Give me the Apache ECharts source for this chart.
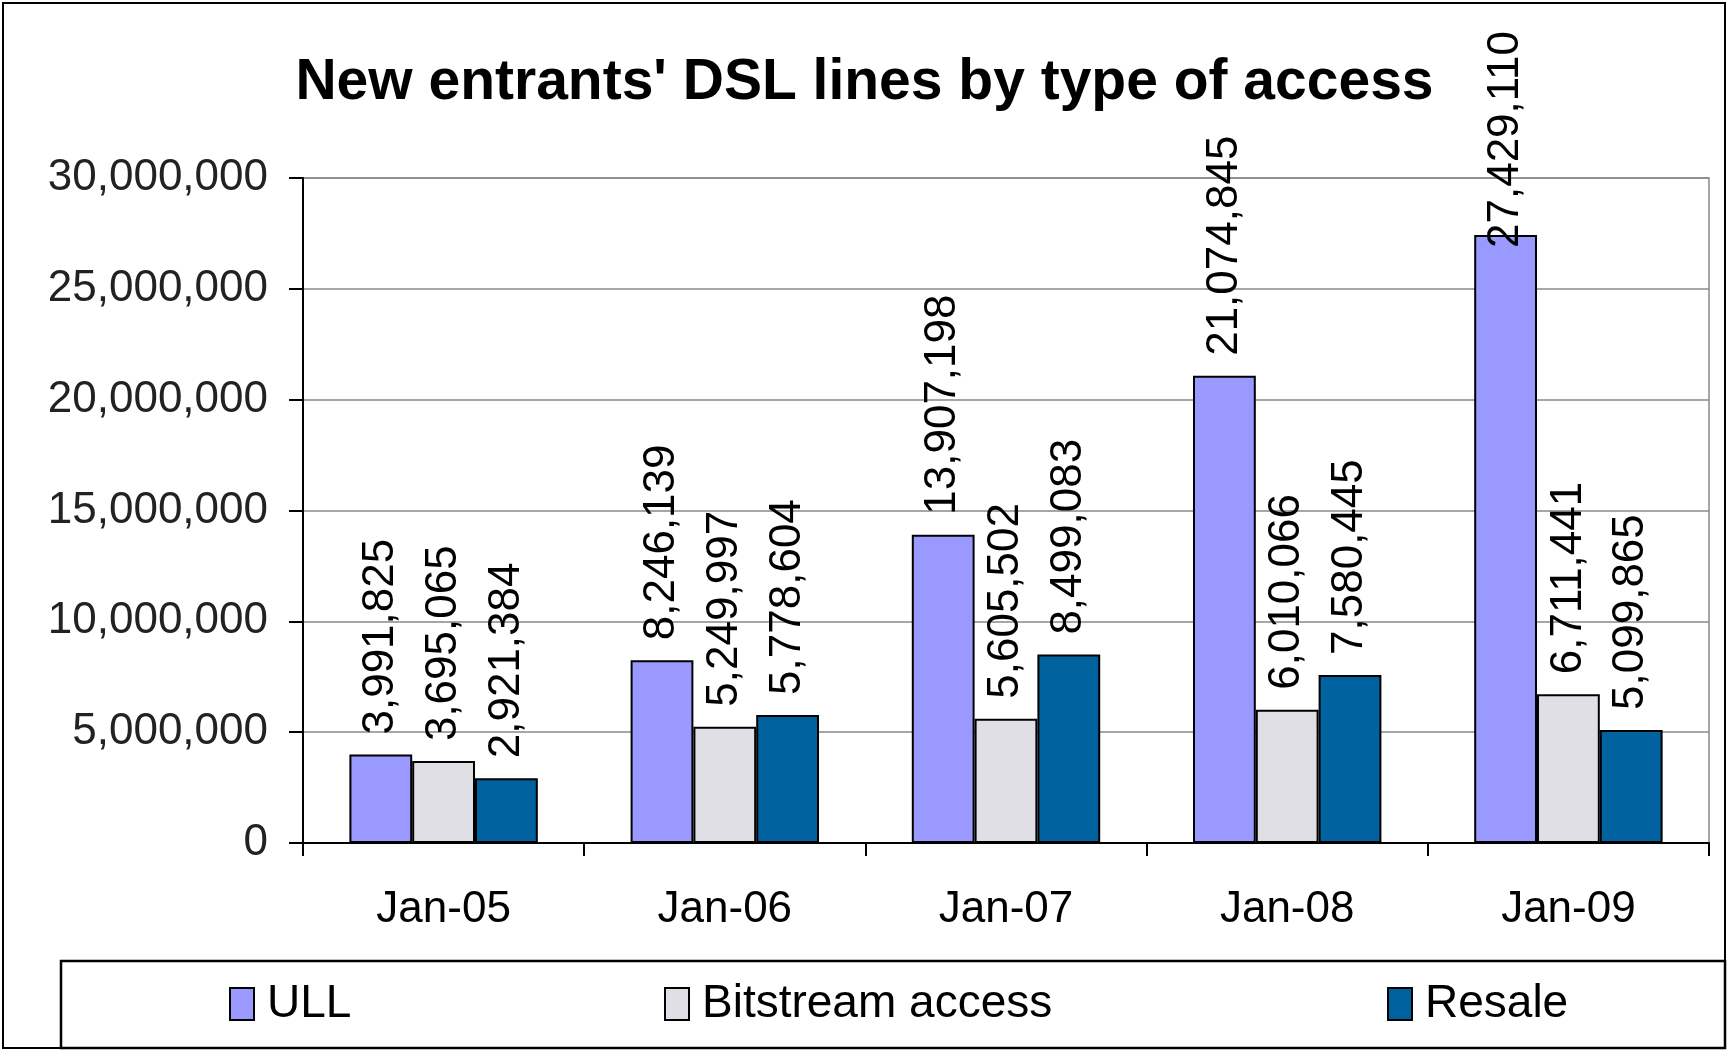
<!DOCTYPE html>
<html><head><meta charset="utf-8">
<script src="https://cdn.jsdelivr.net/npm/echarts@6/dist/echarts.min.js"></script>
<style>html,body{margin:0;padding:0;background:#fff}#c{width:1729px;height:1052px}</style>
</head><body><div id="c"></div>
<script>
const categories = ['Jan-05','Jan-06','Jan-07','Jan-08','Jan-09'];
const ull = [3991825, 8246139, 13907198, 21074845, 27429110];
const bitstream = [3695065, 5249997, 5605502, 6010066, 6711441];
const resale = [2921384, 5778604, 8499083, 7580445, 5099865];
const seriesNames = ['ULL','Bitstream access','Resale'];
const colors = ['#9999FF','#DFDFE5','#00629E'];
const titleText = "New entrants' DSL lines by type of access";

const font = '"Liberation Sans", Arial, sans-serif';
const fmt = v => v.toLocaleString('en-US');

const chart = echarts.init(document.getElementById('c'), null, {renderer:'canvas'});

function mkSeries(name, vals, color, overrides) {
  return {
    name, type:'bar', data: vals.map((v,i)=> overrides && overrides[i] ? Object.assign({value:v}, overrides[i]) : v),
    barGap:'0%', barCategoryGap:'33%',
    itemStyle:{color, borderColor:'#000', borderWidth:2},
    label:{show:true, position:'top', rotate:90, align:'left', verticalAlign:'middle', distance:20,
      fontFamily:font, fontSize:44, color:'#000', formatter:p=>fmt(p.value)},
    emphasis:{disabled:true}
  };
}

const legendCommon = {icon:'rect', itemWidth:24, itemHeight:32, top:976,
  textStyle:{fontFamily:font, fontSize:46, color:'#000', padding:[0,0,0,8]},
  itemStyle:{borderColor:'#000', borderWidth:2}, selectedMode:false};

chart.setOption({
  animation:false,
  backgroundColor:'#fff',
  title:{text:titleText, left:'center', top:50, textStyle:{fontFamily:font, fontSize:57, fontWeight:'bold', color:'#000'}},
  grid:{left:303, top:178, width:1406, height:665, show:true, borderColor:'#888', borderWidth:1.5},
  legend:[
    Object.assign({data:[seriesNames[0]], left:224}, legendCommon),
    Object.assign({data:[seriesNames[1]], left:659}, legendCommon),
    Object.assign({data:[seriesNames[2]], left:1382}, legendCommon)
  ],
  xAxis:{type:'category', data:categories,
    axisLine:{lineStyle:{color:'#000', width:2}},
    axisTick:{show:true, length:13, lineStyle:{color:'#000', width:2}},
    axisLabel:{fontFamily:font, fontSize:44, color:'#000', margin:45}},
  yAxis:{type:'value', min:0, max:30000000, interval:5000000,
    axisLine:{show:true, lineStyle:{color:'#000', width:2}},
    axisTick:{show:true, length:14, lineStyle:{color:'#000', width:2}},
    splitLine:{lineStyle:{color:'#888', width:1.5}},
    axisLabel:{fontFamily:font, fontSize:44, color:'#222', margin:35, formatter:v=>fmt(v)}},
  series:[
    mkSeries(seriesNames[0], ull, colors[0], {4:{label:{distance:-13}}}),
    mkSeries(seriesNames[1], bitstream, colors[1]),
    mkSeries(seriesNames[2], resale, colors[2])
  ],
  graphic:[
    {type:'rect', shape:{x:3, y:3, width:1722, height:1045}, style:{fill:null, stroke:'#000', lineWidth:2}, z:-1},
    {type:'rect', shape:{x:61, y:961, width:1664, height:87}, style:{fill:null, stroke:'#000', lineWidth:2.5}, z:-1}
  ]
});
</script></body></html>
